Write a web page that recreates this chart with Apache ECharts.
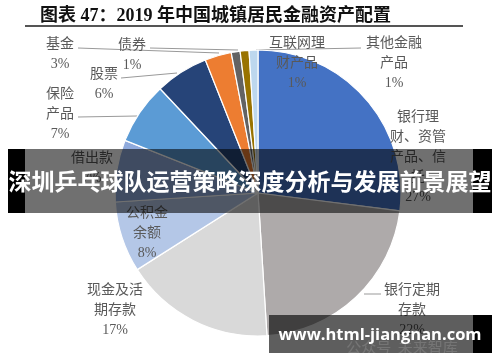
<!DOCTYPE html>
<html>
<head>
<meta charset="utf-8">
<script src="https://cdn.jsdelivr.net/npm/echarts@6/dist/echarts.min.js"></script>
<style>
html,body{margin:0;padding:0;background:#fff;}
#chart{width:500px;height:362px;}
</style>
</head>
<body>
<div id="chart"></div>
<script>
// ---- data ----
const categories = ['银行理\n财、资管\n产品、信\n托', '银行定期\n存款', '现金及活\n期存款', '公积金\n余额', '借出款', '保险\n产品', '股票', '基金', '债券', '互联网理\n财产品', '其他金融\n产品'];
const shares = [27, 22, 17, 8, 7, 7, 6, 3, 1, 1, 1];

// ---- styles / label placement (not data) ----
const colors = ['#4472C4', '#AEAAAA', '#D9D9D9', '#B4C7E7', '#8FAADC', '#5B9BD5', '#264478', '#ED7D31', '#636363', '#997300', '#BDD7EE'];
const labelPos = [[418,157],[412,310],[115,310],[147,233],[92,168],[60,114],[104,84],[60,54],[132,55],[297,63],[394,63]];
const leaderLines = [null, [[364,294],[381,294]], null, null, null, [[137,116],[78,117]], [[177,73],[121,78]], [[219,53],[78,48]], [[238,50],[150,48]], null, [[256,50],[361,48]]];

const serifCJK = "'Liberation Serif', 'Noto Sans CJK SC', serif";
const chart = echarts.init(document.getElementById('chart'), null, {renderer: 'canvas'});

const pieData = categories.map((n, i) => ({
  name: n,
  value: shares[i],
  itemStyle: {color: colors[i]},
  labelLine: {show: !!leaderLines[i]}
}));

chart.setOption({
  animation: false,
  title: {
    text: '图表 47：2019 年中国城镇居民金融资产配置',
    left: 35, top: 2,
    textStyle: {fontFamily: serifCJK, fontWeight: 'bold', fontSize: 18, color: '#111'}
  },
  series: [{
    type: 'pie',
    center: [258, 193],
    radius: 143,
    startAngle: 90,
    clockwise: true,
    avoidLabelOverlap: false,
    data: pieData,
    itemStyle: {borderColor: '#fff', borderWidth: 1.2},
    label: {
      show: true,
      position: 'outside',
      formatter: '{b}\n{c}%',
      fontFamily: serifCJK,
      fontSize: 14,
      lineHeight: 20,
      color: '#595959'
    },
    labelLine: {show: true, lineStyle: {color: '#999', width: 1}},
    labelLayout: function (p) {
      const i = p.dataIndex;
      const o = {x: labelPos[i][0], y: labelPos[i][1], align: 'center', verticalAlign: 'middle'};
      if (leaderLines[i]) o.labelLinePoints = leaderLines[i];
      return o;
    }
  }],
  graphic: [
    {type: 'line', z: 100, shape: {x1: 25, y1: 26, x2: 463, y2: 26}, style: {stroke: '#555', lineWidth: 2}},
    {type: 'rect', z: 100, shape: {x: 25, y: 149, width: 448, height: 64}, style: {fill: 'rgba(0,0,0,0.56)'}},
    {type: 'rect', z: 100, shape: {x: 8, y: 149, width: 17, height: 64}, style: {fill: '#000'}},
    {type: 'rect', z: 100, shape: {x: 473, y: 149, width: 19, height: 64}, style: {fill: '#000'}},
    {type: 'text', z: 101, x: 250, y: 181, style: {text: '深圳乒乓球队运营策略深度分析与发展前景展望', fill: '#fff', font: "bold 23px 'Noto Sans CJK SC', sans-serif", textAlign: 'center', textVerticalAlign: 'middle'}},
    {type: 'rect', z: 100, shape: {x: 269, y: 315, width: 204, height: 38}, style: {fill: 'rgba(0,0,0,0.63)'}},
    {type: 'rect', z: 100, shape: {x: 473, y: 315, width: 19, height: 38}, style: {fill: '#000'}},
    {type: 'text', z: 101, x: 402, y: 347, style: {text: '公众号  未来智库', fill: 'rgba(255,255,255,0.14)', font: "15px 'Noto Sans CJK SC', sans-serif", textAlign: 'center', textVerticalAlign: 'middle'}},
    {type: 'text', z: 102, x: 380, y: 335, style: {text: 'www.html-jiangnan.com', fill: '#fff', font: "bold 16.5px 'Open Sans', sans-serif", textAlign: 'center', textVerticalAlign: 'middle'}}
  ]
});
</script>
</body>
</html>
